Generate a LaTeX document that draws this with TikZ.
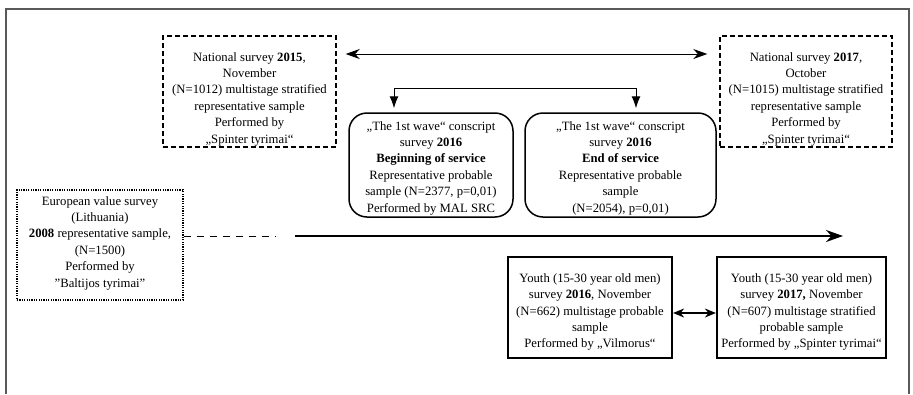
\documentclass[tikz,border=0pt]{standalone}
\usepackage{fontspec}
\setmainfont{Liberation Serif}
\usetikzlibrary{arrows.meta}
\begin{document}
\begin{tikzpicture}[x=1pt,y=-1pt,
  txt/.style={align=center,inner sep=0pt,font=\fontsize{12.7}{16.4}\selectfont},
  frm/.style={draw=black!65,line width=1.3pt},
  dashbox/.style={draw,line width=1.4pt,dash pattern=on 5pt off 3pt,inner sep=0pt},
  dotbox/.style={draw,line width=1.3pt,dash pattern=on 1.2pt off 1.2pt,inner sep=0pt},
  rbox/.style={draw,line width=1.5pt,rounded corners=18pt,inner sep=0pt},
  sbox/.style={draw,line width=2.2pt,inner sep=0pt},
  dbl/.style={line width=1pt,{Stealth[length=14pt,width=10pt]}-{Stealth[length=14pt,width=10pt]}},
  brarr/.style={line width=1pt,-{Latex[length=12pt,width=9pt]}},
  tldash/.style={line width=1pt,dash pattern=on 7pt off 6pt},
  timeline/.style={line width=2.2pt,-{Stealth[length=17pt,width=12pt]}},
  ydbl/.style={line width=1.6pt,{Stealth[length=11pt,width=9pt]}-{Stealth[length=11pt,width=9pt]}}
]
\useasboundingbox (0,0) rectangle (913,394);
\draw[frm] (6,394) -- (6,9) -- (909,9) -- (909,394);

% national surveys
\node[dashbox,minimum width=173pt,minimum height=111pt] (nat15) at (249.5,91.5) {};
\node[txt] (nat15t) at (249.5,99) {National survey \textbf{2015},\\November\\(N=1012) multistage stratified\\representative sample\\Performed by\\„Spinter tyrimai“};
\node[dashbox,minimum width=172pt,minimum height=111pt] (nat17) at (806,91.5) {};
\node[txt] (nat17t) at (806,99) {National survey \textbf{2017},\\October\\(N=1015) multistage stratified\\representative sample\\Performed by\\„Spinter tyrimai“};

% conscript surveys
\node[rbox,minimum width=164pt,minimum height=104pt] (wave1) at (431,165) {};
\node[txt] (wave1t) at (431,168) {„The 1st wave“ conscript\\survey \textbf{2016}\\\textbf{Beginning of service}\\Representative probable\\sample (N=2377, p=0,01)\\Performed by MAL SRC};
\node[rbox,minimum width=191pt,minimum height=104pt] (wave2) at (620.5,165) {};
\node[txt] (wave2t) at (620.5,168) {„The 1st wave“ conscript\\survey \textbf{2016}\\\textbf{End of service}\\Representative probable\\sample\\(N=2054), p=0,01)};

% european value survey
\node[dotbox,minimum width=166pt,minimum height=110pt] (eur) at (100,245) {};
\node[txt] (eurt) at (100,243) {European value survey\\(Lithuania)\\\textbf{2008} representative sample,\\(N=1500)\\Performed by\\”Baltijos tyrimai”};

% youth surveys
\node[sbox,minimum width=164pt,minimum height=101pt] (y16) at (590,307.5) {};
\node[txt] (y16t) at (590,312) {Youth (15-30 year old men)\\survey \textbf{2016}, November\\(N=662) multistage probable\\sample\\Performed by „Vilmorus“};
\node[sbox,minimum width=169pt,minimum height=101pt] (y17) at (801.5,307.5) {};
\node[txt] (y17t) at (801.5,312) {Youth (15-30 year old men)\\survey \textbf{2017,} November\\(N=607) multistage stratified\\probable sample\\Performed by „Spinter tyrimai“};

% connectors
\coordinate (ya) at (0,54);
\draw[dbl,shorten <=9pt,shorten >=12pt] (nat15.east |- ya) -- (nat17.west |- ya);

\coordinate (bl) at (394,88);
\coordinate (br) at (636,88);
\draw[line width=1pt] (bl) -- (br);
\draw[brarr,shorten >=4pt] (bl) -- (bl |- wave1.north);
\draw[brarr,shorten >=4pt] (br) -- (br |- wave2.north);

\coordinate (tl) at (0,236);
\coordinate (td) at (275,236);
\coordinate (ts) at (295,236);
\coordinate (te) at (843,236);
\draw[tldash] (eur.east |- tl) -- (td);
\draw[timeline] (ts) -- (te);

\coordinate (ym) at (0,313);
\draw[ydbl] (y16.east |- ym) -- (y17.west |- ym);
\end{tikzpicture}
\end{document}
